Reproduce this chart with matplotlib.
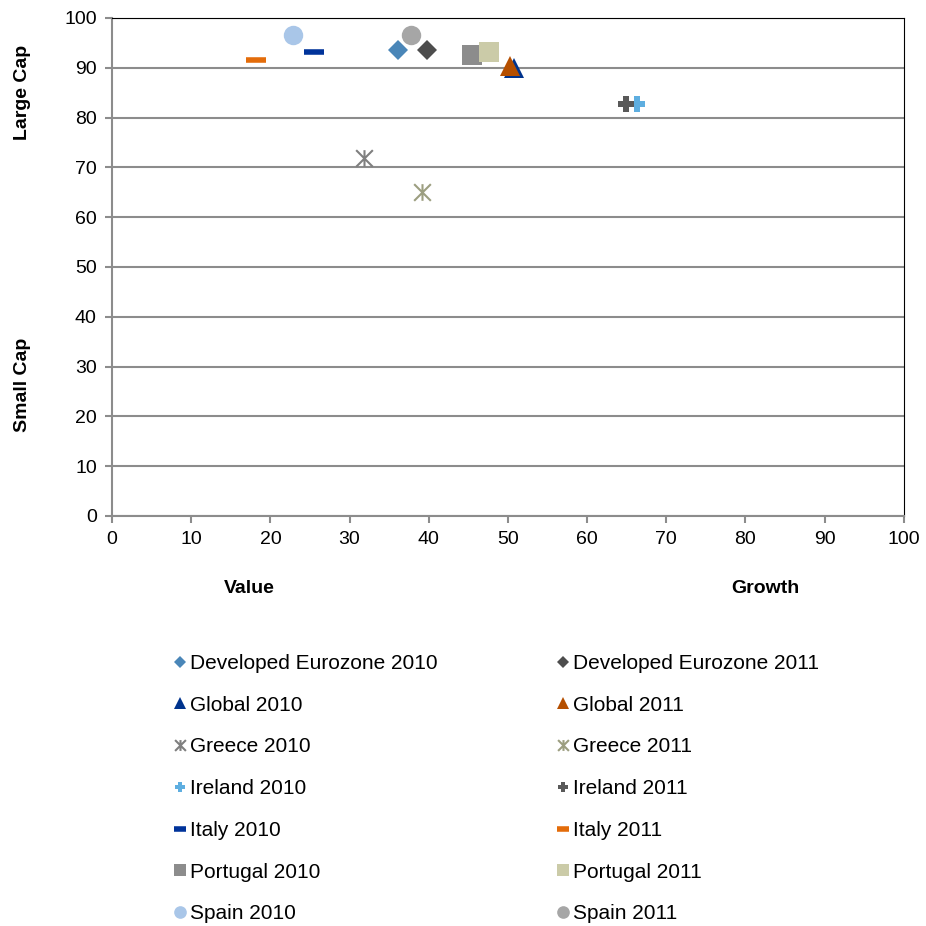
import numpy as np
import matplotlib
matplotlib.use('Agg')
import matplotlib.pyplot as plt
from matplotlib.path import Path

plt.rcParams['font.family'] = ['Liberation Sans', 'DejaVu Sans']

# series: name, value/growth (x), large/small cap (y)
names = ['Developed Eurozone', 'Global', 'Greece', 'Ireland', 'Italy', 'Portugal', 'Spain']
x_2010 = [36.1, 50.8, 31.8, 66.3, 25.5, 45.5, 22.9]
y_2010 = [93.6, 90.0, 71.9, 82.7, 93.2, 92.6, 96.6]
x_2011 = [39.8, 50.3, 39.1, 64.9, 18.2, 47.6, 37.8]
y_2011 = [93.6, 90.4, 65.1, 82.7, 91.6, 93.2, 96.6]

colors_2010 = ['#4A86B8', '#00338D', '#7F7F7F', '#5EAEE0', '#00339A', '#8C8C8C', '#A9C6E8']
colors_2011 = ['#4D4D4D', '#B54F00', '#9C9E80', '#595959', '#E36C0A', '#CBCBA8', '#A6A6A6']

# excel style star: vertical bar plus an X
star = Path([(0, -1), (0, 1), (-1, -1), (1, 1), (-1, 1), (1, -1)],
            [Path.MOVETO, Path.LINETO, Path.MOVETO, Path.LINETO, Path.MOVETO, Path.LINETO])

markers = ['D', '^', star, 'P', '_', 's', 'o']
msizes = [10, 14, 12, 11, 14, 14, 14]
zord = [5, 4, 4, 5, 4, 4, 3]

fig = plt.figure(figsize=(9.26, 9.26), dpi=100)
ax = fig.add_axes([0.121, 0.4428, 0.855, 0.5378])

h2010 = []
h2011 = []
for i, n in enumerate(names):
    for year, xs, ys, cs, hl in [(2010, x_2010, y_2010, colors_2010, h2010),
                                 (2011, x_2011, y_2011, colors_2011, h2011)]:
        m = markers[i]
        kw = dict(marker=m, markersize=msizes[i], linestyle='None', color=cs[i],
                  markerfacecolor=cs[i], markeredgecolor=cs[i], markeredgewidth=0,
                  zorder=zord[i] + (0.5 if year == 2011 else 0))
        if m == '_':
            kw['markeredgewidth'] = 4
        if m is star:
            kw['markeredgewidth'] = 1.5
        line, = ax.plot([xs[i]], [ys[i]], label='%s %d' % (n, year), **kw)
        hl.append(line)

ax.set_xlim(0, 100)
ax.set_ylim(0, 100)
ax.set_xticks(np.arange(0, 101, 10))
ax.set_yticks(np.arange(0, 101, 10))
ax.tick_params(direction='out', length=5, labelsize=14, width=1.5,
               color='#8C8C8C', pad=6)
ax.yaxis.grid(True, color='#8C8C8C', linewidth=1.5)
ax.set_axisbelow(True)
ax.spines['top'].set_color('black')
ax.spines['right'].set_color('black')
ax.spines['left'].set_color('#8C8C8C')
ax.spines['bottom'].set_color('#8C8C8C')
ax.spines['left'].set_linewidth(1.5)
ax.spines['bottom'].set_linewidth(1.5)

fig.text(0.024, 0.90, 'Large Cap', rotation=90, ha='center', va='center',
         fontsize=14, fontweight='bold')
fig.text(0.024, 0.584, 'Small Cap', rotation=90, ha='center', va='center',
         fontsize=14, fontweight='bold')
fig.text(0.269, 0.365, 'Value', ha='center', va='center', fontsize=14, fontweight='bold')
fig.text(0.826, 0.365, 'Growth', ha='center', va='center', fontsize=14, fontweight='bold')

leg = fig.legend(handles=h2010 + h2011, ncol=2, loc='upper left',
                 bbox_to_anchor=(0.177, 0.305), frameon=False, fontsize=15,
                 markerscale=0.65, handlelength=0.55, handletextpad=0.2,
                 columnspacing=5.75, labelspacing=1.09, borderpad=0)

fig.savefig('out.png', dpi=100)
